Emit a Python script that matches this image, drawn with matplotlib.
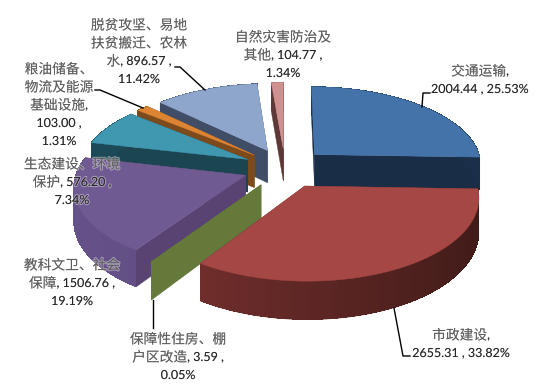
import re
import numpy as np
import matplotlib
matplotlib.use("Agg")
import matplotlib.pyplot as plt
import matplotlib.patheffects as pe
from matplotlib.patches import Polygon
from matplotlib.colors import to_rgb

names = ["交通运输", "市政建设", "保障性住房、棚户区改造", "教科文卫、社会保障",
         "生态建设、环境保护", "粮油储备、物流及能源基础设施", "脱贫攻坚、易地扶贫搬迁、农林水",
         "自然灾害防治及其他"]
values = [2004.44, 2655.31, 3.59, 1506.76, 576.20, 103.00, 896.57, 104.77]
percents = ["25.53%", "33.82%", "0.05%", "19.19%", "7.34%", "1.31%", "11.42%", "1.34%"]

# top, outer wall (left lit), outer wall (right dark), cut face
colors = [
    ("#4473a9", "#24406a", "#1b2f4a", "#1a2d47"),
    ("#a54745", "#7d3331", "#401b18", "#5c2826"),
    ("#64793a", "#64793a", "#64793a", "#64793a"),
    ("#6f5a92", "#66528a", "#574670", "#584372"),
    ("#3f97b0", "#1c4a58", "#1c4a58", "#1c4552"),
    ("#dd8433", "#7d4a1c", "#7d4a1c", "#7d4a1c"),
    ("#8fa6cc", "#3f4e66", "#3f4e66", "#3f4e66"),
    ("#cf9190", "#5d3836", "#5d3836", "#5d3836"),
]
draw_order = [7, 6, 5, 4, 0, 3, 2, 1]

# center and scale of the tilted pie in pixels
CX, CY = 285, 168
RX, RY = 168, 79
PERSP = 0.12
EXPLODE = 0.25
DEPTH = 33


def project(x, y):
    s = 1 / (1 + PERSP * y)
    return CX + RX * x * s, CY - RY * y * s, s


def mix(c1, c2, f):
    c1, c2 = np.array(to_rgb(c1)), np.array(to_rgb(c2))
    return tuple(c2 + (c1 - c2) * f)


def draw_slice(ax, a0, a1, cols):
    mid = (a0 + a1) / 2
    off = (EXPLODE * np.sin(mid), EXPLODE * np.cos(mid))
    top_c, wall_l, wall_r, cut_c = cols
    ang = np.linspace(a0, a1, max(3, int((a1 - a0) * 40)))
    xs, ys, ss = project(off[0] + np.sin(ang), off[1] + np.cos(ang))
    ax_, ay_, as_ = project(*off)

    # cut faces
    for k in (0, -1):
        quad = [(ax_, ay_), (xs[k], ys[k]), (xs[k], ys[k] + DEPTH * ss[k]), (ax_, ay_ + DEPTH * as_)]
        ax.add_patch(Polygon(quad, facecolor=cut_c, edgecolor=cut_c, lw=0.3))

    # outer wall: smooth base, then shaded strips without antialiasing
    low = list(zip(xs, ys + DEPTH * ss))
    base = list(zip(xs, ys)) + low[::-1]
    ax.add_patch(Polygon(base, facecolor=mix(wall_l, wall_r, 0.5), edgecolor="none", lw=0))
    for i in range(len(ang) - 1):
        quad = [(xs[i], ys[i]), (xs[i + 1], ys[i + 1]),
                (xs[i + 1], ys[i + 1] + DEPTH * ss[i + 1] - 0.5), (xs[i], ys[i] + DEPTH * ss[i] - 0.5)]
        f = 0.5 * (1 - np.sin(ang[i]))
        ax.add_patch(Polygon(quad, facecolor=mix(wall_l, wall_r, f), edgecolor="none", lw=0, antialiased=False))

    top = [(ax_, ay_)] + list(zip(xs, ys))
    ax.add_patch(Polygon(top, facecolor=top_c, edgecolor=top_c, lw=0.3))


def draw_line(ax, renderer, line, x, y):
    # Chinese runs are larger and lighter than the digit runs
    runs = re.findall(r"[^\x00-\x7f]+|[\x00-\x7f]+", line)
    items = []
    for run in runs:
        cjk = ord(run[0]) > 127
        t = ax.text(0, y, run, ha="left", va="center_baseline",
                    fontsize=9.9 if cjk else 9.0, color="#5c5c5c" if cjk else "#262626",
                    family=["Noto Sans CJK SC"] if cjk else ["Lato"])
        t.set_path_effects([pe.withStroke(linewidth=1.5, foreground=(1, 1, 1, 0.4))])
        items.append((t, t.get_window_extent(renderer).width))
    pos = x - sum(w for _, w in items) / 2
    for t, w in items:
        t.set_x(pos)
        pos += w


fig = plt.figure(figsize=(5.5, 3.86), dpi=100)
ax = fig.add_axes([0, 0, 1, 1])
ax.set_xlim(0, 550)
ax.set_ylim(386, 0)
ax.axis("off")
renderer = fig.canvas.get_renderer()

edges = np.concatenate([[0], np.cumsum(values)]) / np.sum(values) * 2 * np.pi
for i in draw_order:
    draw_slice(ax, edges[i], edges[i + 1], colors[i])

# leader lines
leaders = [
    [(422, 107), (423, 93), (430, 93)],
    [(394, 308), (403, 356), (410, 356)],
    [(153, 300), (153, 328)],
    [(143, 108), (100, 90), (95, 90)],
    [(205, 90), (180, 67), (175, 67)],
]
for pts in leaders:
    px, py = zip(*pts)
    ax.plot(px, py, color="black", lw=1.0)

# labels: text lines broken like the original
label_lines = [
    ([f"{names[0]},", f"{values[0]:.2f} , {percents[0]}"], 480, 79),
    ([f"{names[1]},", f"{values[1]:.2f} , {percents[1]}"], 461, 343),
    (["保障性住房、棚", f"户区改造, {values[2]:.2f} ,", percents[2]], 178, 356),
    (["教科文卫、社会", f"保障, {values[3]:.2f} ,", percents[3]], 72, 282),
    (["生态建设、环境", f"保护, {values[4]:.2f} ,", percents[4]], 72, 181),
    (["粮油储备、", "物流及能源", "基础设施,", f"{values[5]:.2f} ,", percents[5]], 59, 104),
    (["脱贫攻坚、易地", "扶贫搬迁、农林", f"水, {values[6]:.2f} ,", percents[6]], 139, 51),
    (["自然灾害防治及", f"其他, {values[7]:.2f} ,", percents[7]], 283, 54),
]
for lines, x, y in label_lines:
    for j, line in enumerate(lines):
        draw_line(ax, renderer, line, x, y + (j - (len(lines) - 1) / 2) * 18)

fig.savefig("out.png", dpi=100)
